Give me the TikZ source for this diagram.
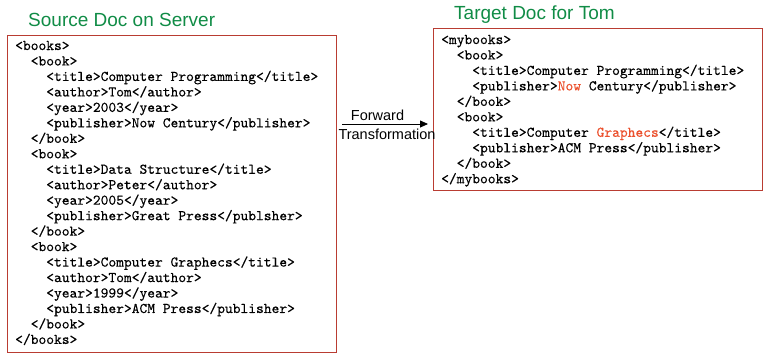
\documentclass[tikz,border=0pt]{standalone}
\usepackage{fontspec}
\setmainfont{Liberation Sans}
\setmonofont[FakeBold=0.3]{lmmono10-regular.otf}
\usetikzlibrary{arrows.meta}
\definecolor{titlegreen}{RGB}{16,140,70}
\definecolor{boxred}{RGB}{185,60,50}
\definecolor{hl}{RGB}{235,80,45}
\tikzset{
  doctitle/.style={anchor=base west,inner sep=0pt,text=titlegreen,font=\fontsize{19}{22}\selectfont},
  docbox/.style={draw=boxred,line width=1pt,anchor=north west,inner sep=0pt},
  codeline/.style={anchor=base west,inner sep=0pt,font=\ttfamily\fontsize{14.8}{17}\selectfont},
  lbl/.style={inner sep=0pt,font=\fontsize{14.5}{17}\selectfont},
  fwd/.style={-{Triangle[length=8pt,width=7pt]},line width=0.8pt}
}
\begin{document}
\begin{tikzpicture}[x=1pt,y=-1pt]
\useasboundingbox (0,0) rectangle (764,360);
\node[doctitle] (stitle) at (28,26.5) {Source Doc on Server};
\node[doctitle] (ttitle) at (454,19) {Target Doc for Tom};
\node[docbox,minimum width=329pt,minimum height=317pt] (src) at (7,35) {};
\node[docbox,minimum width=329pt,minimum height=162pt] (tgt) at (433,28) {};
\foreach \t [count=\i] in {
{<books>},
{\ \ <book>},
{\ \ \ \ <title>Computer Programming</title>},
{\ \ \ \ <author>Tom</author>},
{\ \ \ \ <year>2003</year>},
{\ \ \ \ <publisher>Now Century</publisher>},
{\ \ </book>},
{\ \ <book>},
{\ \ \ \ <title>Data Structure</title>},
{\ \ \ \ <author>Peter</author>},
{\ \ \ \ <year>2005</year>},
{\ \ \ \ <publisher>Great Press</publsher>},
{\ \ </book>},
{\ \ <book>},
{\ \ \ \ <title>Computer Graphecs</title>},
{\ \ \ \ <author>Tom</author>},
{\ \ \ \ <year>1999</year>},
{\ \ \ \ <publisher>ACM Press</publisher>},
{\ \ </book>},
{</books>}}
  \node[codeline] (s\i) at (15,{50+15.47*(\i-1)}) {\t};
\foreach \t [count=\i] in {
{<mybooks>},
{\ \ <book>},
{\ \ \ \ <title>Computer Programming</title>},
{\ \ \ \ <publisher>{\color{hl}Now} Century</publisher>},
{\ \ </book>},
{\ \ <book>},
{\ \ \ \ <title>Computer {\color{hl}Graphecs}</title>},
{\ \ \ \ <publisher>ACM Press</publisher>},
{\ \ </book>},
{</mybooks>}}
  \node[codeline] (t\i) at (441,{44+15.47*(\i-1)}) {\t};
\coordinate (astart) at (342,124);
\coordinate (aend) at (428,124);
\draw[fwd] (astart) -- (aend);
\node[lbl,anchor=base] (fw) at (377.5,120) {Forward};
\node[lbl,anchor=base] (tr) at (387,139) {Transformation};
\end{tikzpicture}
\end{document}
